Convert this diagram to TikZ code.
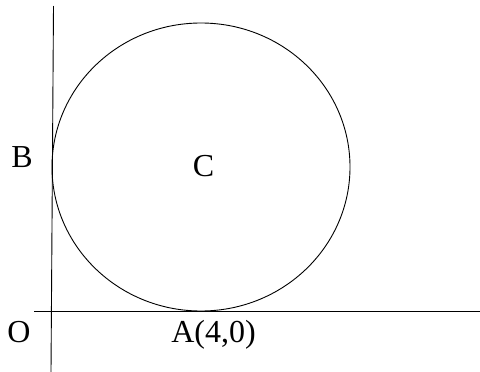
\documentclass[tikz,border=0pt]{standalone}
\usepackage{fontspec}
\setmainfont{Liberation Serif}
\usetikzlibrary{positioning}

\begin{document}
\begin{tikzpicture}[x=1pt, y=-1pt, line width=0.9pt,
    lbl/.style={font=\fontsize{32}{38}\selectfont, inner sep=0pt, anchor=base}]
    \useasboundingbox (0,0) rectangle (480,372);
    % Axes
    \coordinate (ytop) at (53.5,6);
    \coordinate (ybot) at (51,372);
    \coordinate (xleft) at (34,311);
    \coordinate (xright) at (480,311);
    \draw (ytop) -- (ybot);
    \draw (xleft) -- (xright);
    
    % Circle
    \coordinate (ctr) at (201,167);
    \draw (ctr) ellipse [x radius=149, y radius=144];
    
    % Labels
    \node (c) [lbl] at (203.5,176) {C};
    \node (b) [lbl] at (22,167) {B};
    \node (o) [lbl] at (19,342) {O};
    \node (a) [lbl] at (213.5,342) {A(4,0)};
\end{tikzpicture}
\end{document}
